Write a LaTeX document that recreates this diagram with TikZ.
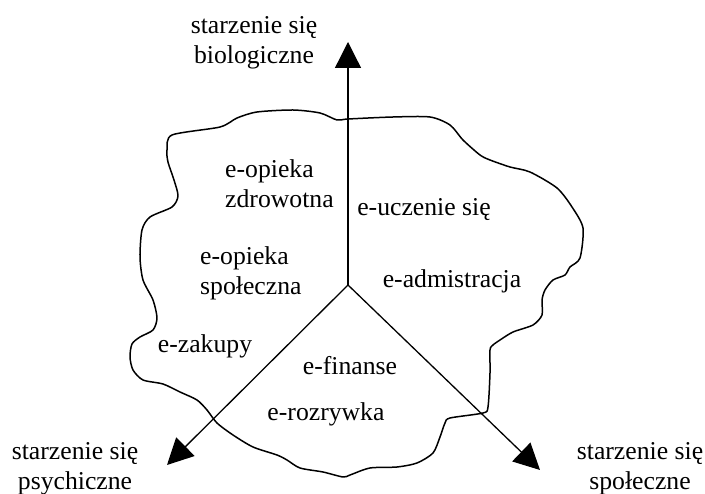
\documentclass[tikz,border=0pt]{standalone}
\usepackage{fontspec}
\setmainfont{Liberation Serif}
\usetikzlibrary{arrows.meta}

\begin{document}
\begin{tikzpicture}[x=1pt,y=-1pt,
    axis/.style={line width=1.3pt,-{Triangle[length=26pt,width=26pt]}},
    area/.style={line width=1.5pt,line join=round},
    lbl/.style={font=\fontsize{25.7}{30}\selectfont,inner sep=0pt}]
        \useasboundingbox (0,0) rectangle (705,494);

        % area
        \draw[area] plot[smooth cycle,tension=0.45] coordinates {
          (172,135) (167,150) (168,162) (174,180) (178,196) (172,207)
          (150,217) (142,230) (140,257) (143,280) (153,300) (157,318)
          (153,330) (140,337) (132,344) (130,357) (133,370) (143,380)
          (163,384) (180,392) (197,400) (207,410) (217,423) (233,435)
          (253,447) (277,455) (287,460) (300,468) (323,472) (343,477)
          (350,475) (370,468) (397,467) (417,463) (433,453) (440,437)
          (445,423) (450,418) (483,413) (488,407) (490,373) (490,350)
          (493,345) (500,340) (513,332) (533,325) (542,315) (542,300)
          (545,290) (553,280) (565,275) (570,267) (580,258) (583,228)
          (572,207) (557,188) (530,172) (510,167) (490,160) (480,155)
          (463,140) (450,125) (430,117) (393,117) (348,119) (337,120)
          (320,113) (293,110) (257,112) (237,118) (220,127)};

        % axes
        \coordinate (O) at (348,285);
        \coordinate (bio) at (348,42);
        \coordinate (psy) at (167,465);
        \coordinate (spo) at (540,470);
        \draw[axis] (O) -- (bio);
        \draw[axis] (O) -- (psy);
        \draw[axis] (O) -- (spo);

        % axis labels
        \node[lbl,align=center] (biolbl) at (254,43) {starzenie się\\biologiczne};
        \node[lbl,align=center] (psylbl) at (75,469) {starzenie się\\psychiczne};
        \node[lbl,align=center] (spolbl) at (640,469) {starzenie się\\społeczne};

        % e-services
        \node[lbl,align=left,anchor=west] (zdrow) at (225,184) {e-opieka\\zdrowotna};
        \node[lbl,align=left,anchor=west] (spol) at (200,273) {e-opieka\\społeczna};
        \node[lbl,anchor=base] (zakupy) at (205,353) {e-zakupy};
        \node[lbl,anchor=base] (uczenie) at (424,216) {e-uczenie się};
        \node[lbl,anchor=base] (admin) at (452,288) {e-admistracja};
        \node[lbl,anchor=base] (finanse) at (350,375) {e-finanse};
        \node[lbl,anchor=base] (rozr) at (326,421) {e-rozrywka};
\end{tikzpicture}
\end{document}
